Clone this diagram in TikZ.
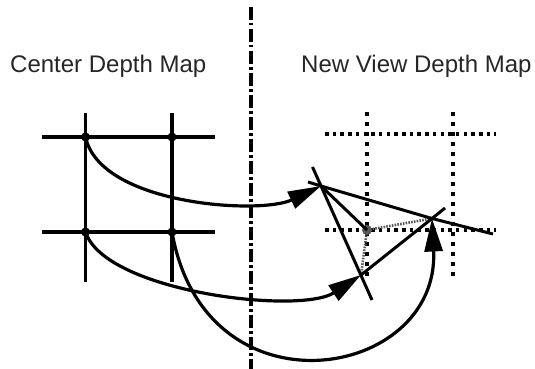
\documentclass[tikz,border=0pt]{standalone}
\usepackage{fontspec}
\setmainfont{Liberation Sans}
\usetikzlibrary{arrows.meta}
\begin{document}
\begin{tikzpicture}[x=1pt,y=-1pt,
  gridline/.style={line width=3.2pt},
  dotline/.style={line width=3.5pt, dash pattern=on 3.5pt off 4.2pt},
  vdotline/.style={line width=3.5pt, dash pattern=on 4pt off 6pt},
  dashdot/.style={line width=3.2pt, dash pattern=on 13pt off 3pt on 2.5pt off 3.5pt},
  sideline/.style={line width=3pt},
  grayline/.style={line width=2.6pt, black!65, dash pattern=on 1.6pt off 1.2pt},
  curvearrow/.style={line width=3.2pt, -{Triangle[length=33pt,width=18pt]}},
  label/.style={anchor=base west, inner sep=0pt, text=black!85, font=\fontsize{24}{28}\selectfont},
  dot/.style={circle, fill=black, inner sep=0pt, minimum size=9pt}
]
\useasboundingbox (0,0) rectangle (535,369);

% titles
\node[label] (t1) at (10,72) {Center Depth Map};
\node[label] (t2) at (301,72) {New View Depth Map};

% separator
\coordinate (sepTop) at (251,7);
\coordinate (sepBot) at (251,369);
\draw[dashdot] (sepTop) -- (sepBot);

% left grid
\coordinate (h1w) at (42,137); \coordinate (h1e) at (215,137);
\coordinate (h2w) at (42,232); \coordinate (h2e) at (215,232);
\coordinate (v1n) at (85.5,113); \coordinate (v1s) at (85.5,282);
\coordinate (v2n) at (172,113); \coordinate (v2s) at (172,282);
\draw[gridline] (h1w) -- (h1e);
\draw[gridline] (h2w) -- (h2e);
\draw[gridline] (v1n) -- (v1s);
\draw[gridline] (v2n) -- (v2s);
\node[dot] (p11) at (85.5,137) {};
\node[dot] (p12) at (172,137) {};
\node[dot] (p21) at (85.5,232) {};
\node[dot] (p22) at (172,232) {};

% right grid (dotted)
\coordinate (r1w) at (325,134); \coordinate (r1e) at (496,134);
\coordinate (r2w) at (325,230); \coordinate (r2e) at (496,230);
\coordinate (c1n) at (367,112); \coordinate (c1s) at (367,278);
\coordinate (c2n) at (453,112); \coordinate (c2s) at (453,278);
\draw[dotline] (r1w) -- (r1e);
\draw[dotline] (r2w) -- (r2e);
\draw[vdotline] (c1n) -- (c1s);
\draw[vdotline] (c2n) -- (c2s);

% warped points
\coordinate (A) at (321,186);
\coordinate (B) at (432,218.5);
\coordinate (C) at (361,275);
\coordinate (D) at (367,230);
\coordinate (Aext) at (308,182);
\coordinate (Bext) at (493,234);
\coordinate (Atop) at (312.5,167);
\coordinate (Cbot) at (372,300);
\coordinate (Bup) at (445,208);

\draw[grayline] (D) -- (B);
\draw[grayline] (D) -- (C);
\fill[black!65] (D) circle (5pt);
\draw[sideline] (Aext) -- (A) -- (B) -- (Bext);
\draw[sideline] (Atop) -- (Cbot);
\draw[sideline] (C) -- (B) -- (Bup);
\draw[sideline] (A) -- (D);

% mapping arrows
\draw[curvearrow] (p11.center) .. controls (100,205) and (260,215) .. (A);
\draw[curvearrow] (p21.center) .. controls (105,292) and (300,315) .. (C);
\draw[curvearrow] (p22.center) .. controls (205,420) and (440,380) .. (B);
\end{tikzpicture}
\end{document}
